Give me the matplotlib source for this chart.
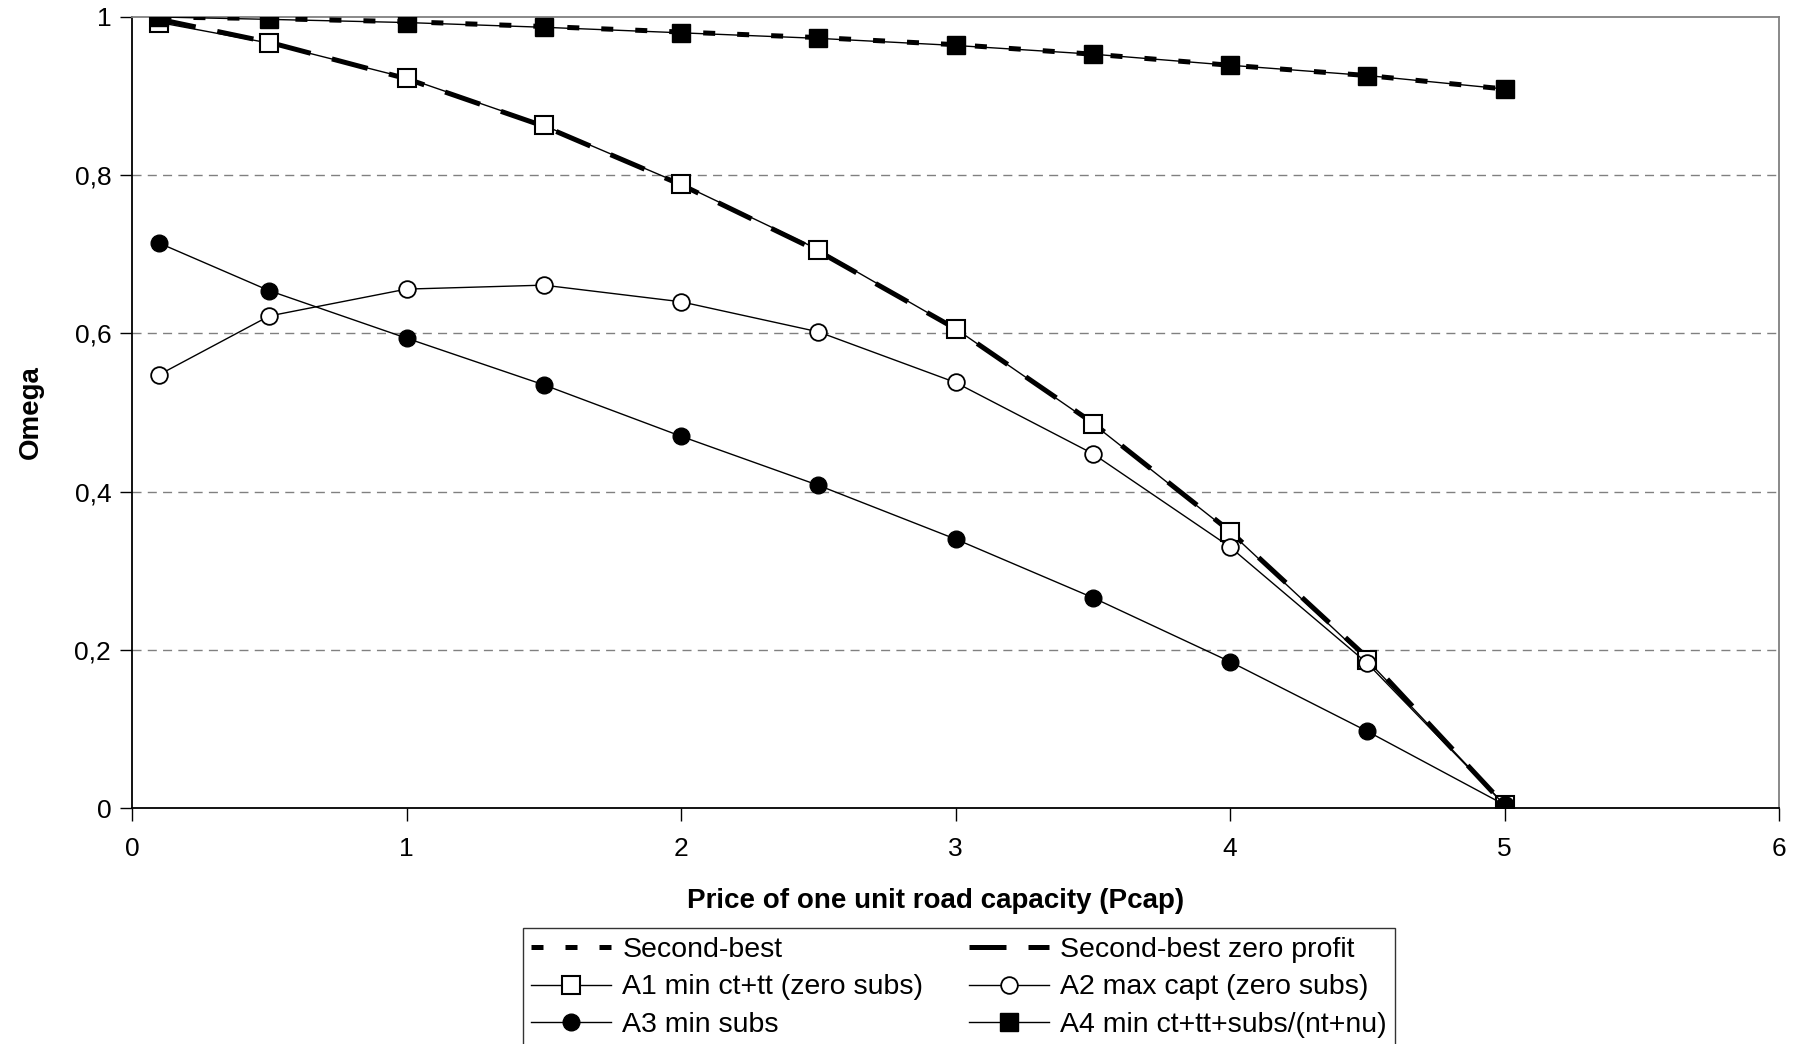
import matplotlib
matplotlib.use("Agg")
import matplotlib.pyplot as plt

plt.rcParams['font.family'] = ['Liberation Sans', 'DejaVu Sans']

x = [0.1, 0.5, 1, 1.5, 2, 2.5, 3, 3.5, 4, 4.5, 5]
second_best = [1.0, 0.998, 0.994, 0.988, 0.981, 0.974, 0.965, 0.953, 0.939, 0.926, 0.909]
second_best_zp = [0.997, 0.968, 0.922, 0.862, 0.788, 0.704, 0.606, 0.487, 0.350, 0.190, 0.004]
a1 = [0.993, 0.967, 0.923, 0.863, 0.789, 0.706, 0.606, 0.486, 0.349, 0.187, 0.004]
a2 = [0.548, 0.622, 0.656, 0.661, 0.640, 0.602, 0.538, 0.448, 0.330, 0.183, 0.004]
a3 = [0.714, 0.654, 0.594, 0.535, 0.470, 0.408, 0.340, 0.266, 0.185, 0.097, 0.004]
a4 = [1.0, 0.997, 0.993, 0.987, 0.980, 0.973, 0.964, 0.953, 0.939, 0.926, 0.909]

labels = ["Second-best", "Second-best zero profit", "A1 min ct+tt (zero subs)",
          "A2 max capt (zero subs)", "A3 min subs", "A4 min ct+tt+subs/(nt+nu)"]
xticks = [0, 1, 2, 3, 4, 5, 6]
yticks = [0, 0.2, 0.4, 0.6, 0.8, 1]
yticklabels = ["0", "0,2", "0,4", "0,6", "0,8", "1"]

fig = plt.figure(figsize=(18.02, 10.44), dpi=100)
ax = fig.add_axes([132/1802, 1 - 808/1044, (1779-132)/1802, (808-17)/1044])

h0, = ax.plot(x, second_best, color='black', lw=3.6, ls=(0, (2.4, 4.4)), label=labels[0], zorder=3)
h1, = ax.plot(x, second_best_zp, color='black', lw=3.6, ls=(0, (7.4, 4.4)), label=labels[1], zorder=3)
h2, = ax.plot(x, a1, color='black', lw=1, marker='s', ms=12.5, mfc='white', mec='black', mew=1.5, label=labels[2], zorder=4)
h3, = ax.plot(x, a2, color='black', lw=1, marker='o', ms=12, mfc='white', mec='black', mew=1.3, label=labels[3], zorder=4)
h4, = ax.plot(x, a3, color='black', lw=1, marker='o', ms=12, mfc='black', mec='black', label=labels[4], zorder=4)
h5, = ax.plot(x, a4, color='black', lw=1, marker='s', ms=13.2, mfc='black', mec='black', label=labels[5], zorder=4)

ax.set_xlim(0, 6)
ax.set_ylim(0, 1)
ax.set_xticks(xticks)
ax.set_yticks(yticks)
ax.set_yticklabels(yticklabels)
for yv in [0.2, 0.4, 0.6, 0.8]:
    ax.axhline(yv, color='#808080', lw=1, ls=(0, (6.5, 4.5)), zorder=1)

ax.spines['left'].set_color('black')
ax.spines['bottom'].set_color('black')
ax.spines['top'].set_color('#808080')
ax.spines['right'].set_color('#808080')
for s in ax.spines.values():
    s.set_linewidth(1.3)
ax.tick_params(axis='both', direction='out', length=9, width=1, labelsize=19, colors='black')
ax.tick_params(axis='x', pad=12)
ax.tick_params(axis='y', pad=6)
ax.set_xlabel("Price of one unit road capacity (Pcap)", fontsize=20, fontweight='bold')
ax.xaxis.set_label_coords(0.488, -0.101)
ax.set_ylabel("Omega", fontsize=20, fontweight='bold', labelpad=22)

order = [h0, h2, h4, h1, h3, h5]
leg = fig.legend(handles=order, labels=[h.get_label() for h in order],
                 loc='upper center', bbox_to_anchor=(959/1802, 1 - 928/1044), ncol=2,
                 fontsize=20.5, frameon=True, fancybox=False, edgecolor='black',
                 handlelength=2.8, columnspacing=1.6, labelspacing=0.42, borderpad=0.3,
                 handletextpad=0.4, borderaxespad=0)
leg.get_frame().set_linewidth(1)

fig.savefig("out.png", dpi=100)
